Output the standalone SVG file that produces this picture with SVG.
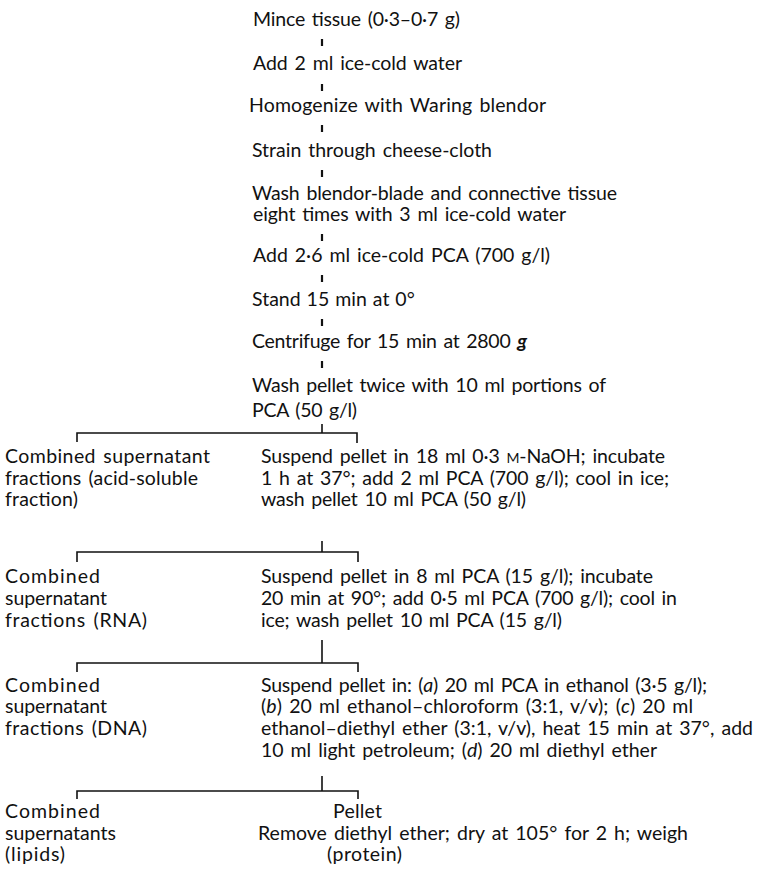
<svg xmlns="http://www.w3.org/2000/svg" width="760" height="883" viewBox="0 0 760 883">
<style>
text{font-family:Lato,"Open Sans","Liberation Sans",sans-serif;font-size:19.5px;word-spacing:2px;fill:#111}
.tk{stroke:#111;stroke-width:2.2;fill:none}
.br{stroke:#111;stroke-width:1.6;fill:none}
.it{font-style:italic}
.bi{font-style:italic;font-weight:bold}
.sc{font-size:14px}
</style>
<rect width="760" height="883" fill="#fff"/>
<g id="connectors">
<line class="tk" x1="322" y1="39" x2="322" y2="46"/>
<line class="tk" x1="322" y1="84" x2="322" y2="91"/>
<line class="tk" x1="322" y1="125" x2="322" y2="132"/>
<line class="tk" x1="322" y1="170" x2="322" y2="177"/>
<line class="tk" x1="322" y1="234" x2="322" y2="241"/>
<line class="tk" x1="322" y1="275" x2="322" y2="282"/>
<line class="tk" x1="322" y1="319" x2="322" y2="326"/>
<line class="tk" x1="322" y1="361" x2="322" y2="368"/>
<path class="br" d="M322,424 V433 M77,442 V433 H357 V443"/>
<path class="br" d="M322,541 V552 M77,562 V552 H358 V562"/>
<path class="br" d="M322,640 V663 M77,672 V663 H358 V672"/>
<path class="br" d="M322,776 V791 M77,799 V791 H358 V799"/>
</g>
<g id="n1"><text x="253" y="26" textLength="207" lengthAdjust="spacing">Mince tissue (0·3–0·7 g)</text></g>
<g id="n2"><text x="253" y="70" textLength="209" lengthAdjust="spacing">Add 2 ml ice-cold water</text></g>
<g id="n3"><text x="249" y="112" textLength="297" lengthAdjust="spacing">Homogenize with Waring blendor</text></g>
<g id="n4"><text x="252" y="157" textLength="240" lengthAdjust="spacing">Strain through cheese-cloth</text></g>
<g id="n5"><text x="252" y="200" textLength="365" lengthAdjust="spacing">Wash blendor-blade and connective tissue</text><text x="253" y="221" textLength="313" lengthAdjust="spacing">eight times with 3 ml ice-cold water</text></g>
<g id="n6"><text x="253" y="262" textLength="297" lengthAdjust="spacing">Add 2·6 ml ice-cold PCA (700 g/l)</text></g>
<g id="n7"><text x="252" y="306" style="word-spacing:1px">Stand 15 min at 0°</text></g>
<g id="n8"><text x="252" y="348" textLength="275" lengthAdjust="spacing">Centrifuge for 15 min at 2800 <tspan class="bi">g</tspan></text></g>
<g id="n9"><text x="252" y="392" textLength="354" lengthAdjust="spacing">Wash pellet twice with 10 ml portions of</text><text x="252" y="417" textLength="105" lengthAdjust="spacing">PCA (50 g/l)</text></g>
<g id="acid-soluble"><text x="5" y="463" textLength="205" lengthAdjust="spacing">Combined supernatant</text><text x="5" y="485" textLength="193" lengthAdjust="spacing">fractions (acid-soluble</text><text x="5" y="506" textLength="73" lengthAdjust="spacing">fraction)</text></g>
<g id="naoh"><text x="261" y="463" textLength="404" lengthAdjust="spacing">Suspend pellet in 18 ml 0·3 <tspan class="sc">M</tspan>-NaOH; incubate</text><text x="261" y="485" textLength="408" lengthAdjust="spacing">1 h at 37°; add 2 ml PCA (700 g/l); cool in ice;</text><text x="261" y="506" textLength="265" lengthAdjust="spacing">wash pellet 10 ml PCA (50 g/l)</text></g>
<g id="rna"><text x="5" y="583" textLength="95" lengthAdjust="spacing">Combined</text><text x="5" y="605" textLength="102" lengthAdjust="spacing">supernatant</text><text x="5" y="627" textLength="142" lengthAdjust="spacing">fractions (RNA)</text></g>
<g id="pca15"><text x="261" y="583" textLength="392" lengthAdjust="spacing">Suspend pellet in 8 ml PCA (15 g/l); incubate</text><text x="261" y="605" textLength="416" lengthAdjust="spacing">20 min at 90°; add 0·5 ml PCA (700 g/l); cool in</text><text x="261" y="627" textLength="301" lengthAdjust="spacing">ice; wash pellet 10 ml PCA (15 g/l)</text></g>
<g id="dna"><text x="5" y="692" textLength="95" lengthAdjust="spacing">Combined</text><text x="5" y="713" textLength="102" lengthAdjust="spacing">supernatant</text><text x="5" y="735" textLength="142" lengthAdjust="spacing">fractions (DNA)</text></g>
<g id="ethanol"><text x="261" y="692" textLength="446" lengthAdjust="spacing">Suspend pellet in: (<tspan class="it">a</tspan>) 20 ml PCA in ethanol (3·5 g/l);</text><text x="261" y="713" textLength="432" lengthAdjust="spacing">(<tspan class="it">b</tspan>) 20 ml ethanol–chloroform (3:1, v/v); (<tspan class="it">c</tspan>) 20 ml</text><text x="261" y="735" textLength="492" lengthAdjust="spacing">ethanol–diethyl ether (3:1, v/v), heat 15 min at 37°, add</text><text x="261" y="757" textLength="396" lengthAdjust="spacing">10 ml light petroleum; (<tspan class="it">d</tspan>) 20 ml diethyl ether</text></g>
<g id="lipids"><text x="5" y="818" textLength="95" lengthAdjust="spacing">Combined</text><text x="5" y="840" textLength="111" lengthAdjust="spacing">supernatants</text><text x="5" y="861" textLength="60" lengthAdjust="spacing">(lipids)</text></g>
<g id="protein"><text x="333" y="818" textLength="49" lengthAdjust="spacing">Pellet</text><text x="258" y="840" textLength="430" lengthAdjust="spacing">Remove diethyl ether; dry at 105° for 2 h; weigh</text><text x="327" y="861" textLength="75" lengthAdjust="spacing">(protein)</text></g>
</svg>
